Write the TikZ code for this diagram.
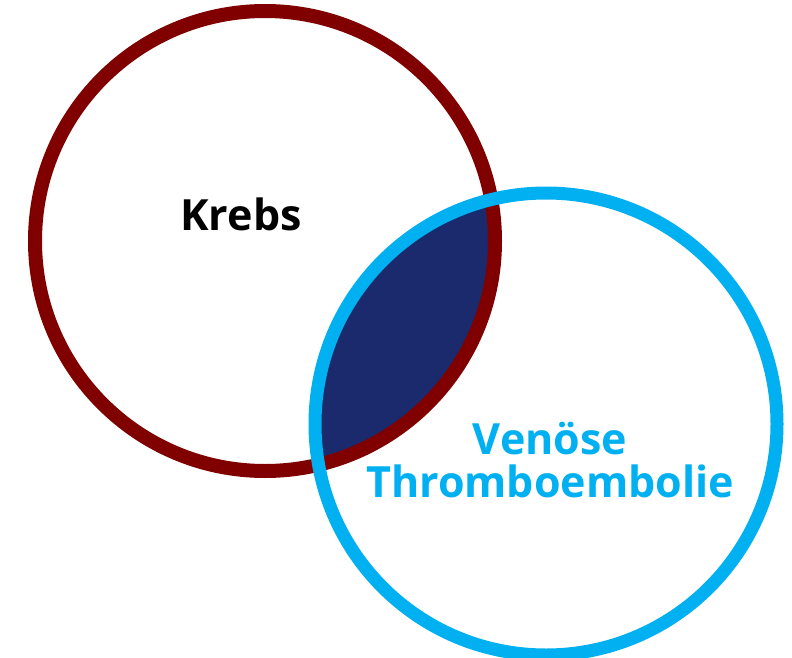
\documentclass[tikz,border=0pt]{standalone}
\usepackage{fontspec}
\setmainfont{Open Sans}
\definecolor{krebsrot}{HTML}{800000}
\definecolor{vteblau}{HTML}{00B0F0}
\definecolor{schnitt}{HTML}{1A2A6C}

\begin{document}
\begin{tikzpicture}[x=1pt,y=-1pt,
	ring/.style={line width=14pt},
	label/.style={font=\fontsize{43}{43}\selectfont\bfseries, align=center, anchor=base}]
	\useasboundingbox (0,0) rectangle (792,658);
	\coordinate (K) at (265,241);
	\coordinate (V) at (546,424);
	% Schnittmenge
	\begin{scope}
		\clip (K) circle [radius=230pt];
		\fill [schnitt] (V) circle [radius=230pt];
	\end{scope}
	\draw [ring, color=krebsrot] (K) circle [radius=230pt];
	\draw [ring, line width=13pt, color=vteblau] (V) circle [radius=231pt];
	\node [label] (krebs) at (241,230) {Krebs};
	\node [label, text=vteblau] (vte) at (550,497) {Venöse\\Thromboembolie};
\end{tikzpicture}
\end{document}
